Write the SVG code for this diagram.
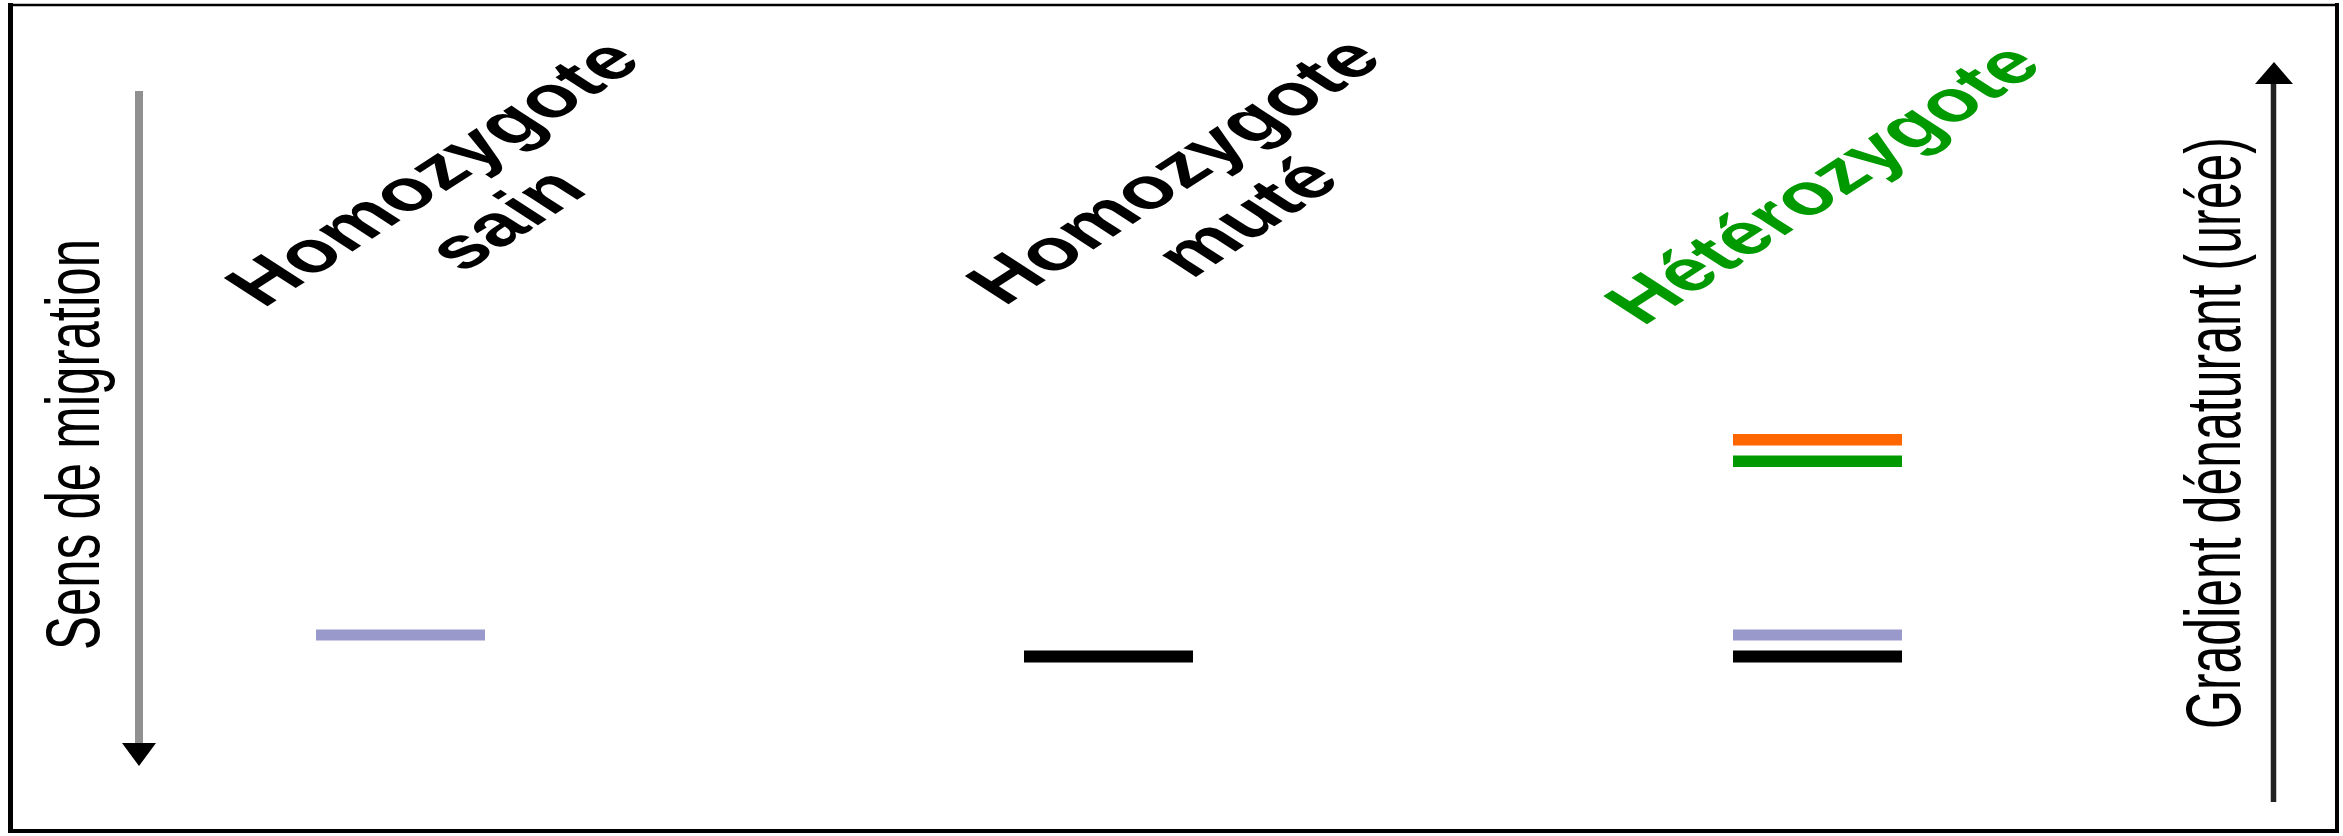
<svg xmlns="http://www.w3.org/2000/svg" width="2343" height="836" viewBox="0 0 2343 836">
<style>
.lab{font-family:"Liberation Sans",Arial,sans-serif;font-size:51px;fill:#000}
.big{font-family:"Liberation Sans",Arial,sans-serif;font-size:58px;font-weight:bold;fill:#000;text-anchor:middle}
.green{fill:#009900}
.frame{stroke:#000;fill:none}
</style>
<rect width="2343" height="836" fill="#fff"/>
<g id="frame">
<line class="frame" x1="10.5" y1="3" x2="10.5" y2="833" stroke-width="5"/>
<line class="frame" x1="8" y1="5" x2="2339" y2="5" stroke-width="2.5"/>
<line class="frame" x1="2337" y1="3" x2="2337" y2="833" stroke-width="4"/>
<line class="frame" x1="8" y1="831" x2="2339" y2="831" stroke-width="4"/>
</g>
<g id="connectors">
<g id="axis-migration">
<line x1="139" y1="91" x2="139" y2="745" stroke="#909090" stroke-width="8"/>
<polygon points="122,743 156,743 139,766" fill="#000"/>
</g>
<g id="axis-gradient">
<line x1="2273.5" y1="82" x2="2273.5" y2="802" stroke="#222" stroke-width="5.5"/>
<polygon points="2255,84 2293,84 2274,62" fill="#000"/>
</g>
</g>
<g id="label-migration">
<text class="lab" transform="translate(99,650) scale(1.5,1) rotate(-90)">Sens de migration</text>
</g>
<g id="label-gradient">
<text class="lab" style="font-size:50px" transform="translate(2240,729) scale(1.55,1) rotate(-90)">Gradient dénaturant (urée)</text>
</g>
<g id="lane-sain">
<g transform="translate(454,186) scale(1.55,1) rotate(-45)">
<text class="big" x="0" y="0">Homozygote</text>
<text class="big" x="0" y="66">sain</text>
</g>
<rect x="316" y="629.5" width="169" height="11" fill="#9999cc"/>
</g>
<g id="lane-mute">
<g transform="translate(1195,184) scale(1.55,1) rotate(-45)">
<text class="big" x="0" y="0">Homozygote</text>
<text class="big" x="0" y="66">muté</text>
</g>
<rect x="1024" y="650.5" width="169" height="12" fill="#000"/>
</g>
<g id="lane-hetero">
<g transform="translate(1844,197) scale(1.55,1) rotate(-45)">
<text class="big green" x="0" y="0">Hétérozygote</text>
</g>
<rect x="1733" y="434" width="169" height="11.5" fill="#ff6600"/>
<rect x="1733" y="455.5" width="169" height="11.5" fill="#009900"/>
<rect x="1733" y="629.5" width="169" height="11" fill="#9999cc"/>
<rect x="1733" y="650.5" width="169" height="12" fill="#000"/>
</g>
</svg>
